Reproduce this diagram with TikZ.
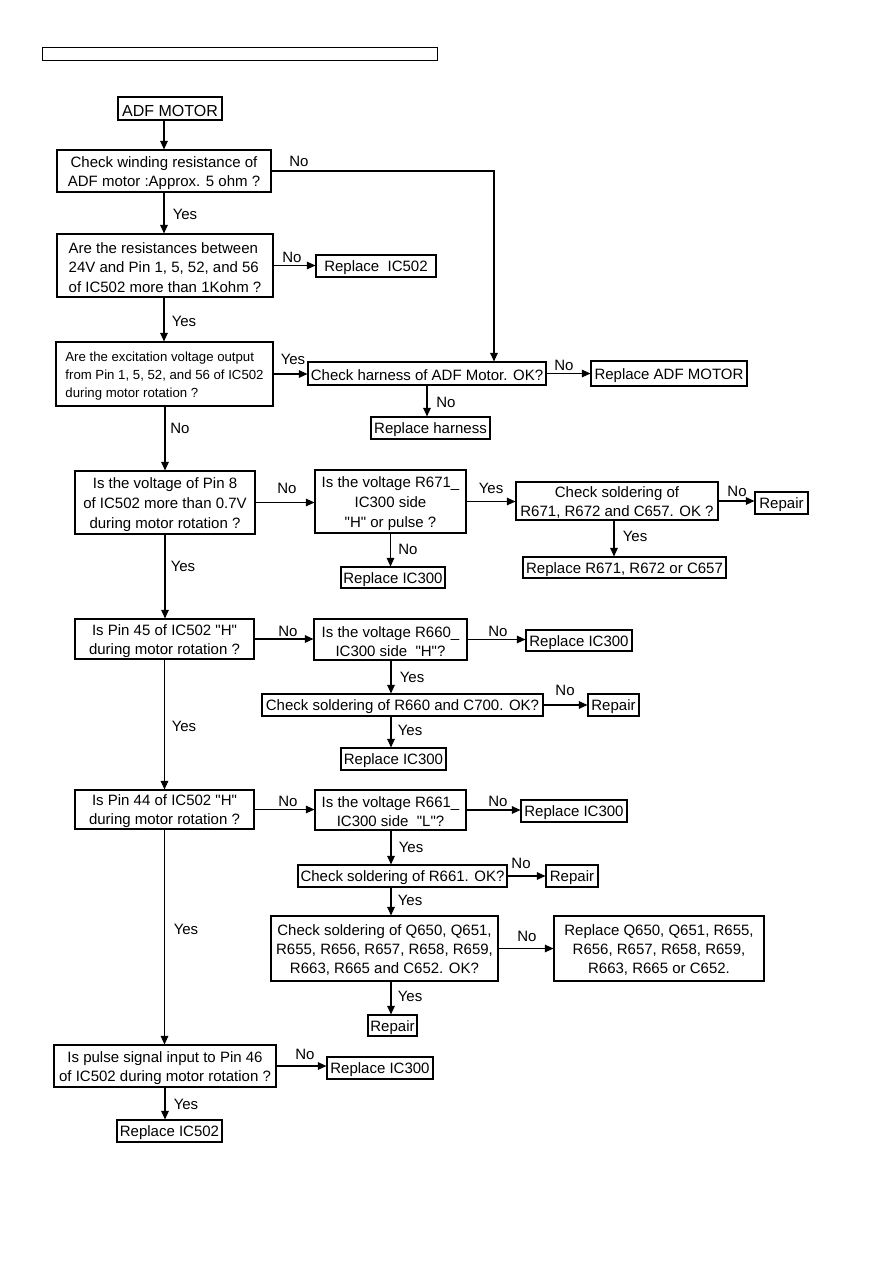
\documentclass[tikz,border=0pt]{standalone}
\usepackage{fontspec}
\setmainfont{Liberation Sans}[Ligatures=TeXOff]
\usetikzlibrary{arrows.meta}
\tikzset{
 box/.style={draw=black,line width=1.1pt,fill=white,inner sep=0pt},
 boxtext/.style={inner sep=0pt,align=center,font=\fontsize{15}{19}\selectfont},
 arr/.style={line width=1.1pt,-{Triangle[length=8.5pt,width=7.5pt]}},
 lbl/.style={font=\fontsize{15}{18}\selectfont,inner sep=0pt},
}
\newcommand{\boxnode}[7][]{%
  \node[box,minimum width={#5-#3},minimum height={#6-#4}] (#2) at ({(#3+#5)/2},{(#4+#6)/2}) {};
  \node[boxtext,#1] (#2-t) at ([yshift=-2pt]#2.center) {#7};}
\begin{document}
\begin{tikzpicture}[x=1pt,y=-1pt]
\useasboundingbox[fill=white] (0,0) rectangle (893,1263);
\node[draw=black,line width=1pt,inner sep=0pt,minimum width=395pt,minimum height=13pt] (hdr) at (239.5,54.5) {};
\boxnode[font=\fontsize{16}{19}\selectfont]{start}{118}{97}{222}{120}{ADF MOTOR}
\boxnode{b1}{57}{150}{271}{192}{Check winding resistance of\\ADF motor :Approx. 5 ohm ?}
\boxnode[align=left,font=\fontsize{15}{19.5}\selectfont]{b2}{57}{234}{273}{297}{Are the resistances between\\24V and Pin 1, 5, 52, and 56\\of IC502 more than 1Kohm ?}
\boxnode{r1}{316}{255}{436}{277}{Replace\ \ IC502}
\boxnode[align=left,font=\fontsize{13.2}{18}\selectfont]{b3}{56}{342}{273}{406}{Are the excitation voltage output\\from Pin 1, 5, 52, and 56 of IC502\\during motor rotation ?}
\boxnode{ch}{308}{362}{546}{385}{Check harness of ADF Motor. OK?}
\boxnode{ram}{591}{361}{747}{386}{Replace ADF MOTOR}
\boxnode{rh}{371}{417}{490}{439}{Replace harness}
\boxnode[font=\fontsize{15}{20}\selectfont]{b4}{75}{471}{255}{534}{Is the voltage of Pin 8\\of IC502 more than 0.7V\\during motor rotation ?}
\boxnode[font=\fontsize{15}{20}\selectfont]{b5}{315}{470}{466}{533}{Is the voltage R671\_\\IC300 side\\"H" or pulse ?}
\boxnode{b6}{516}{482}{718}{520}{Check soldering of\\R671, R672 and C657. OK ?}
\boxnode{rp1}{755}{492}{808}{514}{Repair}
\boxnode{rr}{523}{557}{726}{578}{Replace R671, R672 or C657}
\boxnode{ri1}{341}{567}{445}{588}{Replace IC300}
\boxnode{b7}{75}{619}{254}{659}{Is Pin 45 of IC502 "H"\\during motor rotation ?}
\boxnode{b8}{314}{619}{467}{660}{Is the voltage R660\_\\IC300 side\ \ "H"?}
\boxnode{ri2}{526}{630}{632}{651}{Replace IC300}
\boxnode{b9}{262}{694}{543}{716}{Check soldering of R660 and C700. OK?}
\boxnode{rp2}{588}{694}{639}{716}{Repair}
\boxnode{ri3}{341}{748}{446}{770}{Replace IC300}
\boxnode{b10}{75}{790}{254}{829}{Is Pin 44 of IC502 "H"\\during motor rotation ?}
\boxnode{b11}{315}{790}{466}{830}{Is the voltage R661\_\\IC300 side\ \ "L"?}
\boxnode{ri4}{521}{800}{627}{822}{Replace IC300}
\boxnode{b12}{298}{865}{507}{887}{Check soldering of R661. OK?}
\boxnode{rp3}{546}{865}{598}{887}{Repair}
\boxnode{b13}{271}{916}{498}{981}{Check soldering of Q650, Q651,\\R655, R656, R657, R658, R659,\\R663, R665 and C652. OK?}
\boxnode{b14}{554}{916}{764}{981}{Replace Q650, Q651, R655,\\R656, R657, R658, R659,\\R663, R665 or C652.}
\boxnode{rp4}{368}{1015}{417}{1036}{Repair}
\boxnode{b15}{54}{1045}{276}{1087}{Is pulse signal input to Pin 46\\of IC502 during motor rotation ?}
\boxnode{ri5}{327}{1057}{433}{1079}{Replace IC300}
\boxnode{r2}{117}{1120}{222}{1142}{Replace IC502}
% connectors
\coordinate (c1) at (494,171);
\coordinate (cx) at (391,0);
\draw[arr] (start.south -| b1.north) -- (b1.north);
\draw[arr] (b1.east) -- (b1.east -| c1) -- (c1 |- ch.north);
\draw[arr] (b1.south) -- (b1.south |- b2.north);
\draw[arr] (b2.east) -- (b2.east -| r1.west);
\draw[arr] (b2.south -| b1.south) -- (b1.south |- b3.north);
\draw[arr] (b3.east) -- (b3.east -| ch.west);
\draw[arr] (ch.east) -- (ch.east -| ram.west);
\draw[arr] (ch.south) -- (ch.south |- rh.north);
\draw[arr] (b3.south -| b4.north) -- (b4.north);
\draw[arr] (b4.east) -- (b4.east -| b5.west);
\draw[arr] (b5.east) -- (b5.east -| b6.west);
\draw[arr] (b6.east) -- (b6.east -| rp1.west);
\draw[arr] ([xshift=-3pt]b6.south) -- ([xshift=-3pt]b6.south |- rr.north);
\draw[arr] (b5.south) -- (b5.south |- ri1.north);
\draw[arr] (b4.south) -- (b4.south |- b7.north);
\draw[arr] (b7.east) -- (b7.east -| b8.west);
\draw[arr] (b8.east) -- (b8.east -| ri2.west);
\draw[arr] (b8.south -| cx) -- (cx |- b9.north);
\draw[arr] (b9.east) -- (b9.east -| rp2.west);
\draw[arr] (b9.south -| cx) -- (cx |- ri3.north);
\draw[arr] (b7.south) -- (b7.south |- b10.north);
\draw[arr] (b10.east) -- (b10.east -| b11.west);
\draw[arr] (b11.east) -- (b11.east -| ri4.west);
\draw[arr] (b11.south -| cx) -- (cx |- b12.north);
\draw[arr] (b12.east) -- (b12.east -| rp3.west);
\draw[arr] (b12.south -| cx) -- (cx |- b13.north);
\draw[arr] (b13.east) -- (b13.east -| b14.west);
\draw[arr] (b13.south -| cx) -- (cx |- rp4.north);
\draw[arr] (b10.south) -- (b10.south |- b15.north);
\draw[arr] (b15.east) -- (b15.east -| ri5.west);
\draw[arr] (b15.south) -- (b15.south |- r2.north);
% labels
\node[lbl] (l1) at (299,161) {No};
\node[lbl] (l2) at (185,214) {Yes};
\node[lbl] (l3) at (292,257) {No};
\node[lbl] (l4) at (184,321) {Yes};
\node[lbl] (l5) at (293,359) {Yes};
\node[lbl] (l6) at (564,365) {No};
\node[lbl] (l7) at (446,402) {No};
\node[lbl] (l8) at (180,428) {No};
\node[lbl] (l9) at (287,488) {No};
\node[lbl] (l10) at (491,488) {Yes};
\node[lbl] (l11) at (737,491) {No};
\node[lbl] (l12) at (635,536) {Yes};
\node[lbl] (l13) at (408,549) {No};
\node[lbl] (l14) at (183,566) {Yes};
\node[lbl] (l15) at (288,631) {No};
\node[lbl] (l16) at (498,631) {No};
\node[lbl] (l17) at (412,677) {Yes};
\node[lbl] (l18) at (565,690) {No};
\node[lbl] (l19) at (410,730) {Yes};
\node[lbl] (l20) at (184,726) {Yes};
\node[lbl] (l21) at (288,801) {No};
\node[lbl] (l22) at (498,801) {No};
\node[lbl] (l23) at (411,847) {Yes};
\node[lbl] (l24) at (521,863) {No};
\node[lbl] (l25) at (410,900) {Yes};
\node[lbl] (l26) at (527,936) {No};
\node[lbl] (l27) at (410,996) {Yes};
\node[lbl] (l28) at (186,929) {Yes};
\node[lbl] (l29) at (305,1054) {No};
\node[lbl] (l30) at (186,1104) {Yes};
\end{tikzpicture}
\end{document}
